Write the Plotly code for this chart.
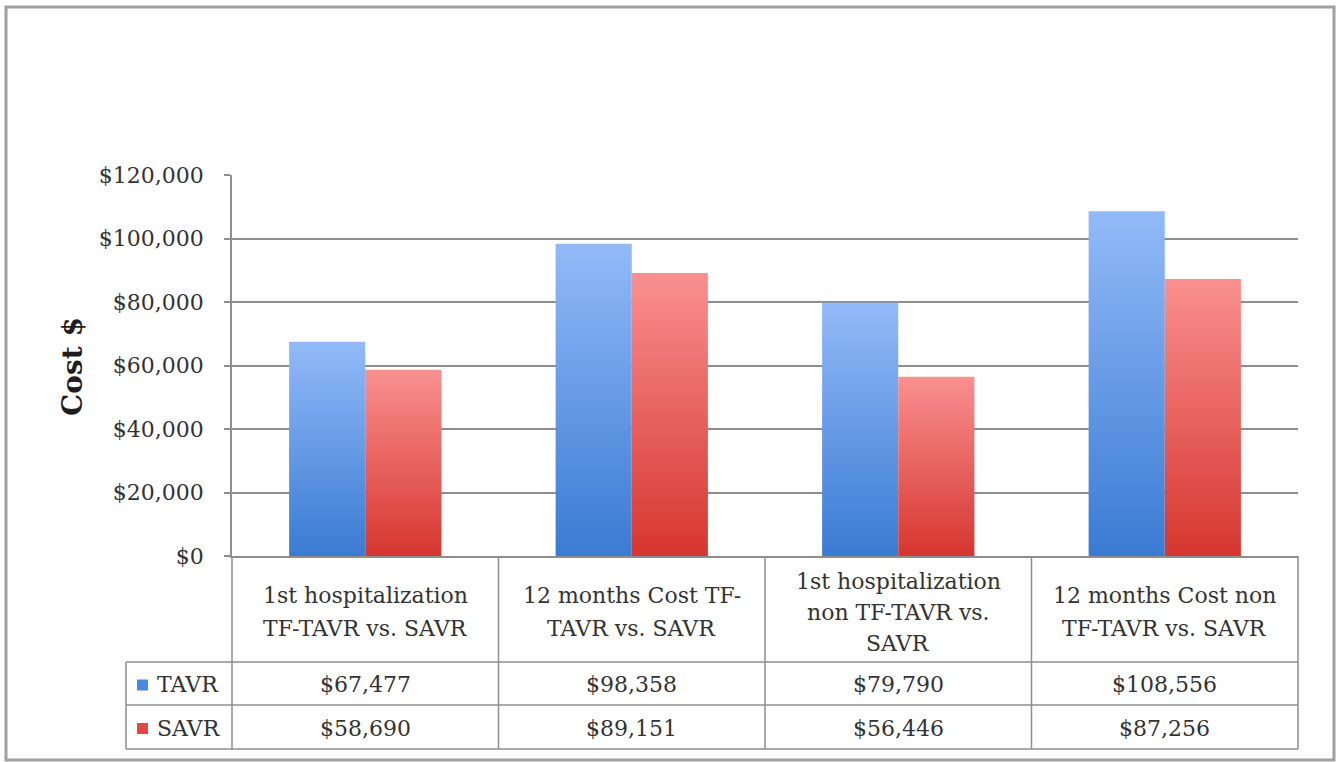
import plotly.graph_objects as go

# ---- data ----
categories = [
    "1st hospitalization\nTF-TAVR vs. SAVR",
    "12 months Cost TF-\nTAVR vs. SAVR",
    "1st hospitalization\nnon TF-TAVR vs.\nSAVR",
    "12 months Cost non\nTF-TAVR vs. SAVR",
]
series_names = ["TAVR", "SAVR"]
tavr_cost = [67477, 98358, 79790, 108556]
savr_cost = [58690, 89151, 56446, 87256]
y_tick_values = [0, 20000, 40000, 60000, 80000, 100000, 120000]
y_tick_labels = ["$0", "$20,000", "$40,000", "$60,000", "$80,000", "$100,000", "$120,000"]

# ---- styling ----
W, H = 1342, 762
FONT = "DejaVu Serif"
TEXT = "#333333"
LINE = "#8e8e8e"
FS = 22
gradients = {
    "TAVR": [[0, "#3a7bd3"], [1, "#92baf8"]],
    "SAVR": [[0, "#d6362f"], [1, "#f99090"]],
}
swatch = {"TAVR": "#4a88e0", "SAVR": "#e24848"}


def fx(px):
    return px / W


def fy(py):
    return 1 - py / H


# plot area and table rows in pixels
PL, PR, PT, PB = 232, 1298, 175, 556
ROW1, ROW2, ROW3 = 662, 705, 749
LEG_L = 126

fig = go.Figure()

# grouped bars with gap width 150% of a bar, drawn as gradient-filled columns
n_cat = len(categories)
bw = 1 / 3.5
for name, values in zip(series_names, [tavr_cost, savr_cost]):
    offset = -bw if name == "TAVR" else 0.0
    for i, v in enumerate(values):
        x0 = i + 0.5 + offset
        x1 = x0 + bw
        fig.add_trace(go.Scatter(
            x=[x0, x0, x1, x1, x0],
            y=[0, v, v, 0, 0],
            mode="lines",
            line=dict(width=0),
            fill="toself",
            fillgradient=dict(type="vertical", colorscale=gradients[name]),
            hoverinfo="skip",
            showlegend=False,
        ))

fig.update_layout(
    width=W, height=H,
    margin=dict(l=0, r=0, t=0, b=0),
    paper_bgcolor="white",
    plot_bgcolor="white",
    font=dict(family=FONT, color=TEXT, size=FS),
    xaxis=dict(
        domain=[fx(PL), fx(PR)],
        range=[0, n_cat],
        automargin=False,
        showgrid=False, zeroline=False,
        showticklabels=False, ticks="",
        showline=True, linecolor=LINE, linewidth=1.5,
        fixedrange=True,
    ),
    yaxis=dict(
        domain=[fy(PB), fy(PT)],
        range=[0, 120000],
        automargin=False,
        tickvals=y_tick_values,
        ticktext=y_tick_labels,
        showgrid=True, gridcolor=LINE, gridwidth=1.5,
        zeroline=False,
        showline=True, linecolor=LINE, linewidth=1.5,
        ticks="outside", ticklen=6, tickcolor=LINE, tickwidth=1.5,
        ticklabelstandoff=16,
        tickfont=dict(family=FONT, size=FS, color=TEXT),
        fixedrange=True,
    ),
)

shapes = []
# outer frame
shapes.append(dict(type="rect", xref="paper", yref="paper",
                   x0=fx(6), x1=fx(1334), y0=fy(760), y1=fy(7),
                   line=dict(color="#a0a0a0", width=3)))


def hline(y, xa, xb):
    shapes.append(dict(type="line", xref="paper", yref="paper",
                       x0=fx(xa), x1=fx(xb), y0=fy(y), y1=fy(y),
                       line=dict(color=LINE, width=1.5)))


def vline(x, ya, yb):
    shapes.append(dict(type="line", xref="paper", yref="paper",
                       x0=fx(x), x1=fx(x), y0=fy(ya), y1=fy(yb),
                       line=dict(color=LINE, width=1.5)))


# data table grid
hline(ROW1, LEG_L, PR)
hline(ROW2, LEG_L, PR)
hline(ROW3, LEG_L, PR)
vline(LEG_L, ROW1, ROW3)
cell_w = (PR - PL) / n_cat
for i in range(n_cat + 1):
    vline(PL + i * cell_w, PB, ROW3)

# legend swatches
for name, (ya, yb) in zip(series_names, [(ROW1, ROW2), (ROW2, ROW3)]):
    yc = (ya + yb) / 2 + 1
    shapes.append(dict(type="rect", xref="paper", yref="paper",
                       x0=fx(137), x1=fx(148), y0=fy(yc + 6), y1=fy(yc - 5),
                       fillcolor=swatch[name], line=dict(width=0)))
fig.update_layout(shapes=shapes)

ann = []
# y-axis title
ann.append(dict(x=fx(73), y=fy(367), xref="paper", yref="paper",
                text="<b>Cost $</b>", textangle=-90, showarrow=False,
                xanchor="center", yanchor="middle",
                font=dict(family=FONT, size=28, color="#1e1e1e")))

# category header cells
for i, cat in enumerate(categories):
    lines = cat.split("\n")
    gap = 33 if len(lines) == 2 else 31
    cx = PL + (i + 0.5) * cell_w
    cy = (PB + ROW1) / 2 + 3
    for k, txt in enumerate(lines):
        yk = cy + (k - (len(lines) - 1) / 2) * gap
        ann.append(dict(x=fx(cx), y=fy(yk), xref="paper", yref="paper",
                        text=txt, showarrow=False,
                        xanchor="center", yanchor="middle",
                        font=dict(family=FONT, size=FS, color=TEXT)))

# value rows
for name, values, (ya, yb) in zip(series_names, [tavr_cost, savr_cost],
                                  [(ROW1, ROW2), (ROW2, ROW3)]):
    yc = (ya + yb) / 2 + 1
    ann.append(dict(x=fx(155), y=fy(yc), xref="paper", yref="paper",
                    text=name, showarrow=False, xanchor="left", yanchor="middle",
                    font=dict(family=FONT, size=FS, color=TEXT)))
    for i, v in enumerate(values):
        cx = PL + (i + 0.5) * cell_w
        ann.append(dict(x=fx(cx), y=fy(yc), xref="paper", yref="paper",
                        text=f"${v:,}", showarrow=False,
                        xanchor="center", yanchor="middle",
                        font=dict(family=FONT, size=FS, color=TEXT)))

fig.update_layout(annotations=ann)

fig.write_html("out.html")
